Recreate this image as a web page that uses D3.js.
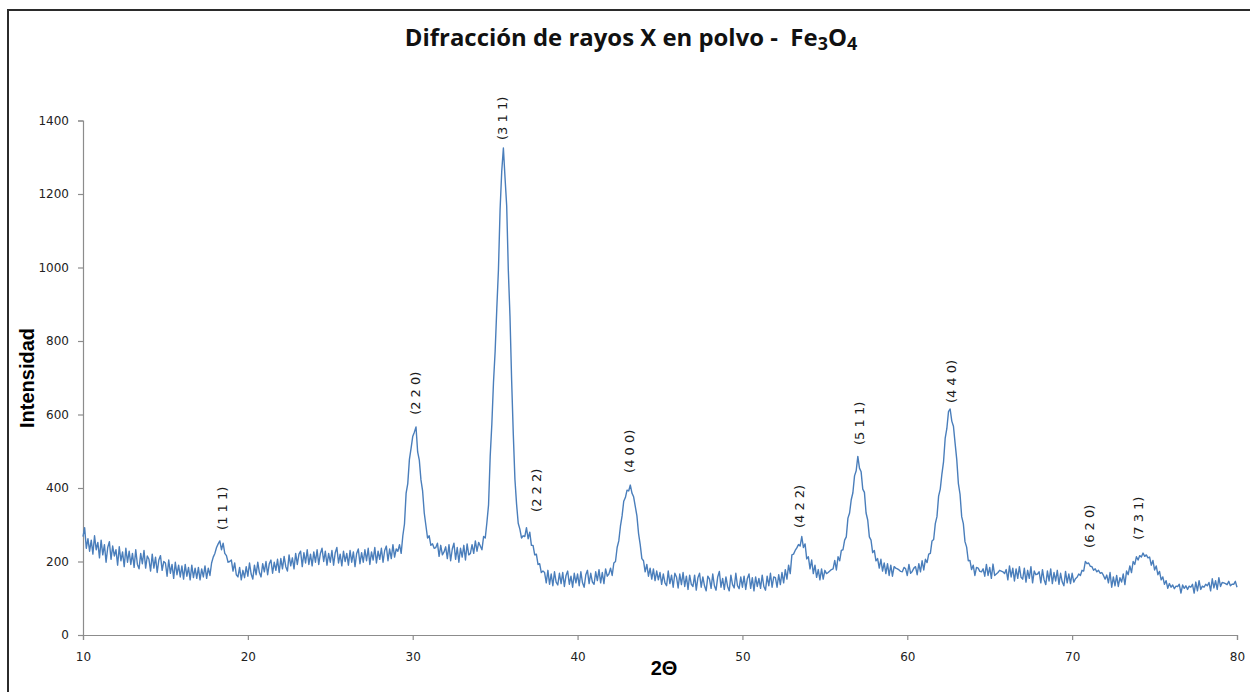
<!DOCTYPE html>
<html>
<head>
<meta charset="utf-8">
<script src="https://cdn.jsdelivr.net/npm/d3@7"></script>
<style>
  html, body { margin: 0; padding: 0; background: #fff; }
  svg { display: block; }
</style>
</head>
<body>
<svg id="chart" width="1250" height="692"></svg>
<script>
// Powder X-ray diffraction pattern of magnetite (Fe3O4)
// Scan grid: 2θ from 10° to 80° in 0.1° steps
const scanStart = 10;
const scanStep = 0.1;

// Measured intensity (counts), one row per degree of 2θ
const intensity = [
  268, 292, 236, 262, 228, 258, 220, 270, 232, 252,   // 10
  210, 258, 218, 246, 198, 238, 254, 206, 242, 215,   // 11
  232, 190, 240, 202, 226, 186, 236, 198, 228, 192,   // 12
  222, 184, 232, 192, 180, 222, 194, 230, 182, 215,   // 13
  206, 174, 220, 182, 212, 170, 204, 216, 176, 200,   // 14
  196, 160, 204, 168, 192, 154, 198, 164, 190, 158,   // 15
  188, 152, 192, 160, 184, 150, 190, 156, 182, 154,   // 16
  184, 150, 180, 158, 188, 154, 182, 162, 196, 212,   // 17
  222, 238, 248, 256, 232, 250, 222, 216, 198, 200,   // 18
  204, 174, 196, 164, 158, 184, 150, 176, 156, 186,   // 19
  160, 196, 166, 152, 190, 164, 198, 170, 158, 194,   // 20
  172, 200, 164, 194, 204, 168, 198, 176, 206, 170,   // 21
  208, 180, 214, 186, 174, 218, 188, 210, 180, 222,   // 22
  192, 220, 228, 186, 224, 196, 232, 192, 220, 188,   // 23
  226, 198, 232, 192, 222, 236, 200, 228, 190, 222,   // 24
  198, 230, 190, 224, 238, 196, 220, 188, 228, 200,   // 25
  222, 190, 230, 198, 226, 186, 222, 234, 194, 224,   // 26
  198, 232, 202, 236, 192, 226, 204, 238, 196, 228,   // 27
  206, 236, 198, 230, 242, 202, 234, 208, 246, 212,   // 28
  234, 228, 246, 222, 270, 302, 386, 412, 478, 508,   // 29
  540, 552, 566, 498, 476, 422, 392, 332, 298, 264,   // 30
  270, 244, 248, 236, 238, 250, 214, 244, 218, 226,   // 31
  240, 208, 246, 202, 234, 250, 206, 238, 198, 236,   // 32
  212, 244, 204, 248, 218, 222, 246, 222, 256, 228,   // 33
  252, 242, 232, 268, 264, 306, 354, 486, 574, 688,   // 34
  772, 888, 994, 1158, 1262, 1325, 1244, 1168, 992, 868, // 35
  694, 548, 424, 356, 304, 288, 264, 270, 268, 292,   // 36
  262, 280, 244, 244, 218, 220, 192, 194, 170, 174,   // 37
  170, 142, 176, 138, 166, 134, 172, 144, 136, 168,   // 38
  140, 170, 132, 162, 174, 138, 160, 130, 168, 142,   // 39
  166, 134, 172, 142, 130, 164, 176, 140, 168, 144,   // 40
  138, 172, 148, 178, 142, 170, 140, 180, 160, 166,   // 41
  182, 162, 196, 200, 238, 256, 296, 324, 364, 374,   // 42
  394, 392, 408, 386, 376, 350, 324, 276, 246, 208,   // 43
  202, 172, 192, 160, 182, 152, 180, 148, 174, 150,   // 44
  170, 138, 166, 142, 134, 174, 140, 163, 130, 168,   // 45
  158, 128, 166, 137, 170, 132, 160, 124, 163, 138,   // 46
  132, 163, 122, 156, 168, 130, 158, 134, 120, 160,   // 47
  153, 127, 166, 134, 122, 158, 173, 130, 154, 124,   // 48
  158, 132, 120, 163, 137, 128, 168, 134, 126, 158,   // 49
  130, 160, 124, 154, 166, 127, 156, 120, 158, 132,   // 50
  154, 127, 163, 132, 122, 160, 134, 168, 130, 158,   // 51
  156, 130, 164, 137, 170, 142, 178, 152, 190, 167,   // 52
  218, 220, 230, 237, 246, 242, 268, 238, 248, 207,   // 53
  213, 180, 204, 167, 190, 157, 178, 150, 180, 152,   // 54
  176, 167, 170, 174, 178, 180, 203, 177, 213, 202,   // 55
  230, 232, 258, 267, 318, 332, 368, 387, 433, 447,   // 56
  486, 454, 444, 397, 388, 332, 313, 267, 258, 224,   // 57
  230, 202, 208, 182, 206, 174, 196, 167, 194, 162,   // 58
  190, 160, 186, 182, 180, 177, 173, 172, 184, 180,   // 59
  162, 192, 168, 173, 182, 186, 164, 194, 172, 202,   // 60
  177, 206, 197, 220, 222, 256, 260, 303, 322, 378,   // 61
  397, 438, 472, 536, 562, 608, 615, 582, 568, 522,   // 62
  478, 412, 383, 322, 303, 254, 239, 202, 203, 178,   // 63
  190, 162, 184, 182, 173, 172, 180, 160, 192, 162,   // 64
  184, 154, 193, 162, 166, 170, 176, 174, 172, 167,   // 65
  178, 150, 188, 158, 182, 147, 180, 154, 186, 157,   // 66
  152, 182, 144, 176, 154, 186, 142, 174, 164, 166,   // 67
  172, 142, 178, 150, 137, 174, 147, 180, 140, 170,   // 68
  147, 176, 138, 168, 144, 134, 173, 142, 166, 140,   // 69
  168, 144, 153, 157, 166, 162, 176, 174, 200, 194,   // 70
  196, 187, 186, 176, 180, 172, 176, 168, 170, 162,   // 71
  152, 163, 142, 170, 130, 158, 134, 162, 132, 156,   // 72
  144, 166, 137, 174, 164, 188, 170, 200, 192, 213,   // 73
  204, 216, 212, 223, 214, 218, 210, 212, 190, 203,   // 74
  177, 188, 164, 173, 150, 158, 138, 148, 127, 140,   // 75
  130, 136, 126, 133, 132, 138, 114, 136, 127, 134,   // 76
  124, 133, 130, 138, 114, 144, 120, 148, 124, 133,   // 77
  130, 138, 134, 143, 120, 153, 128, 148, 124, 156,   // 78
  132, 143, 142, 140, 137, 146, 134, 138, 138, 146,   // 79
  130                                                 // 80
];

// Miller indices of the indexed reflections, with the 2θ and intensity where each tag sits
const peakHkl       = ["(1 1 1)", "(2 2 0)", "(3 1 1)", "(2 2 2)", "(4 0 0)", "(4 2 2)", "(5 1 1)", "(4 4 0)", "(6 2 0)", "(7 3 1)"];
const peakTwoTheta  = [18.49, 30.14, 35.42, 37.48, 43.18, 53.49, 57.13, 62.71, 71.08, 74.05];
const peakTagBase   = [286, 599, 1347, 335, 441, 291, 517, 631, 237, 259];

// Axis ticks
const xTicks = [10, 20, 30, 40, 50, 60, 70, 80];
const yTicks = [0, 200, 400, 600, 800, 1000, 1200, 1400];

const titleMain = "Difracción de rayos X en polvo -  Fe";
const xTitle = "2Θ";
const yTitle = "Intensidad";

const points = intensity.map((v, i) => ({ t: scanStart + i * scanStep, v }));

const svg = d3.select("#chart");

// Outer chart frame
svg.append("rect")
  .attr("x", 8).attr("y", 10)
  .attr("width", 1270).attr("height", 700)
  .attr("fill", "none")
  .attr("stroke", "#2b2b2b")
  .attr("stroke-width", 2);

const x = d3.scaleLinear().domain([10, 80]).range([83, 1237]);
const y = d3.scaleLinear().domain([0, 1400]).range([635, 120.5]);

const tickFont = "'DejaVu Sans', Verdana, sans-serif";

// Y axis
const gy = svg.append("g")
  .attr("transform", `translate(${x(10)},0)`)
  .call(d3.axisLeft(y).tickValues(yTicks).tickSize(5).tickPadding(9).tickFormat(d3.format("d")));
// X axis
const gx = svg.append("g")
  .attr("transform", `translate(0,${y(0)})`)
  .call(d3.axisBottom(x).tickValues(xTicks).tickSize(5).tickPadding(12).tickFormat(d3.format("d")));

[gx, gy].forEach(g => {
  g.select(".domain").attr("stroke", "#8c8c8c").attr("stroke-width", 1.2);
  g.selectAll(".tick line").attr("stroke", "#8c8c8c").attr("stroke-width", 1.2);
  g.selectAll(".tick text")
    .attr("fill", "#222")
    .style("font-family", tickFont)
    .style("font-size", "12px");
});

// Diffraction trace
svg.append("path")
  .datum(points)
  .attr("fill", "none")
  .attr("stroke", "#4a7ebb")
  .attr("stroke-width", 1.4)
  .attr("stroke-linejoin", "round")
  .attr("d", d3.line().x(d => x(d.t)).y(d => y(d.v)));

// Reflection tags, written bottom-to-top
svg.append("g")
  .selectAll("text")
  .data(peakHkl.map((h, i) => ({ h, t: peakTwoTheta[i], v: peakTagBase[i] })))
  .join("text")
  .attr("transform", d => `translate(${x(d.t)},${y(d.v)}) rotate(-90)`)
  .attr("text-anchor", "start")
  .attr("dominant-baseline", "central")
  .attr("fill", "#1a1a1a")
  .style("font-family", tickFont)
  .style("font-size", "13px")
  .style("white-space", "pre")
  .text(d => d.h);

// Title with subscripted formula
const title = svg.append("text")
  .attr("x", 631).attr("y", 46)
  .attr("text-anchor", "middle")
  .attr("fill", "#111")
  .style("font-family", "'Open Sans', 'Noto Sans', sans-serif")
  .style("font-weight", "bold")
  .style("font-size", "22px")
  .style("white-space", "pre");
title.append("tspan").text(titleMain);
title.append("tspan").attr("baseline-shift", "-22%").style("font-size", "0.75em").text("3");
title.append("tspan").text("O");
title.append("tspan").attr("baseline-shift", "-22%").style("font-size", "0.75em").text("4");
// fit the title to its slot width
const tw = title.node().getBBox().width;
title.style("font-size", (22 * 453 / tw).toFixed(2) + "px");

// Axis titles
svg.append("text")
  .attr("transform", `translate(34,378) rotate(-90)`)
  .attr("text-anchor", "middle")
  .attr("fill", "#000")
  .style("font-family", "'Liberation Sans', Arial, sans-serif")
  .style("font-weight", "bold")
  .style("font-size", "20px")
  .text(yTitle);

svg.append("text")
  .attr("x", 664).attr("y", 675)
  .attr("text-anchor", "middle")
  .attr("fill", "#000")
  .style("font-family", "'Liberation Sans', Arial, sans-serif")
  .style("font-weight", "bold")
  .style("font-size", "20px")
  .text(xTitle);
</script>
</body>
</html>
